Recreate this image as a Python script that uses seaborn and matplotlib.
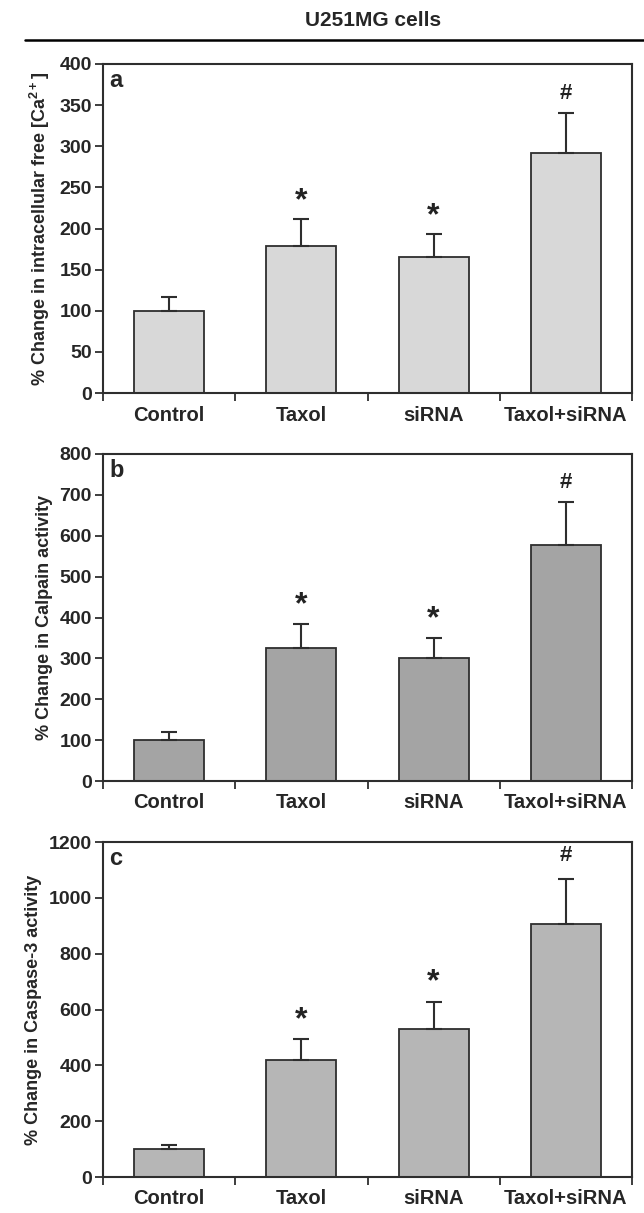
import matplotlib
matplotlib.use("Agg")
import matplotlib.pyplot as plt
from matplotlib.lines import Line2D
import seaborn as sns
import numpy as np
import pandas as pd

categories = ["Control", "Taxol", "siRNA", "Taxol+siRNA"]

calcium_mean = [100, 179, 165, 292]
calcium_upper = [117, 211, 193, 340]
calpain_mean = [100, 326, 300, 578]
calpain_upper = [120, 385, 350, 682]
caspase_mean = [102, 419, 530, 905]
caspase_upper = [116, 493, 628, 1069]

marks_a = ["", "*", "*", "#"]
marks_b = ["", "*", "*", "#"]
marks_c = ["", "*", "*", "#"]

ylabels = ["% Change in intracellular free [Ca$^{2+}$]",
           "% Change in Calpain activity",
           "% Change in Caspase-3 activity"]
panel_letters = ["a", "b", "c"]
yticks_list = [list(range(0, 401, 50)), list(range(0, 801, 100)), list(range(0, 1201, 200))]

sns.set_theme(style="white")
fam = "Liberation Sans"
plt.rcParams["font.family"] = [fam, "DejaVu Sans"]
plt.rcParams["mathtext.fontset"] = "custom"
plt.rcParams["mathtext.rm"] = fam + ":bold"
plt.rcParams["mathtext.bf"] = fam + ":bold"
plt.rcParams["mathtext.default"] = "bf"

fig = plt.figure(figsize=(6.44, 12.13), dpi=100)

L = 103 / 644
W = 529 / 644
H = 1213
rects = [(L, 1 - 393 / H, W, 329 / H),
         (L, 1 - 781 / H, W, 327 / H),
         (L, 1 - 1177 / H, W, 335 / H)]

means = [calcium_mean, calpain_mean, caspase_mean]
uppers = [calcium_upper, calpain_upper, caspase_upper]
marks = [marks_a, marks_b, marks_c]
colors = ["#d8d8d8", "#a4a4a4", "#b6b6b6"]
edge = "#2e2e2e"

for i in range(3):
    ax = fig.add_axes(rects[i])
    df = pd.DataFrame({"cat": categories, "val": means[i]})
    sns.barplot(data=df, x="cat", y="val", ax=ax, color=colors[i], width=0.53,
                edgecolor=edge, linewidth=1.3, saturation=1)
    m = np.array(means[i], dtype=float)
    u = np.array(uppers[i], dtype=float)
    xs = np.arange(len(categories))
    ax.errorbar(xs, m, yerr=[np.zeros_like(m), u - m], fmt="none",
                ecolor=edge, elinewidth=1.5, capsize=6, capthick=1.5)
    yt = yticks_list[i]
    step = yt[1] - yt[0]
    for x, top, mk in zip(xs, u, marks[i]):
        if mk == "*":
            ax.text(x, top + step * 0.08, mk, ha="center", va="bottom",
                    fontsize=23, color="#222", fontweight="bold")
        elif mk == "#":
            ax.text(x, top + step * 0.22, mk, ha="center", va="bottom",
                    fontsize=16, color="#222", fontweight="bold")
    ax.set_ylim(0, yt[-1])
    ax.set_xlim(-0.5, len(categories) - 0.5)
    ax.set_yticks(yt)
    ax.set_yticklabels([str(v) for v in yt], fontsize=14, fontweight="bold")
    ax.set_xticks(np.arange(-0.5, len(categories), 1.0))
    ax.set_xticklabels([])
    ax.set_xticks(xs, minor=True)
    ax.set_xticklabels(categories, minor=True, fontsize=14.5, fontweight="bold")
    ax.tick_params(axis="x", which="major", direction="out", length=6, width=1.3,
                   color=edge, bottom=True)
    ax.tick_params(axis="x", which="minor", length=0, pad=9, bottom=True)
    ax.tick_params(axis="y", direction="out", length=6, width=1.3, color=edge,
                   left=True, pad=2)
    ax.set_xlabel("")
    ax.set_ylabel(ylabels[i], fontsize=13, fontweight="bold", labelpad=5)
    for s in ax.spines.values():
        s.set_color(edge)
        s.set_linewidth(1.5)
    ax.text(0.012, 0.985, panel_letters[i], transform=ax.transAxes, ha="left",
            va="top", fontsize=17, fontweight="bold")

fig.text(373 / 644, 1 - 20 / H, "U251MG cells", ha="center", va="center",
         fontsize=15, fontweight="bold")
fig.add_artist(Line2D([25 / 644, 1.0], [1 - 40 / H, 1 - 40 / H],
                      transform=fig.transFigure, color="black", linewidth=1.8))

fig.savefig("out.png", dpi=100)
